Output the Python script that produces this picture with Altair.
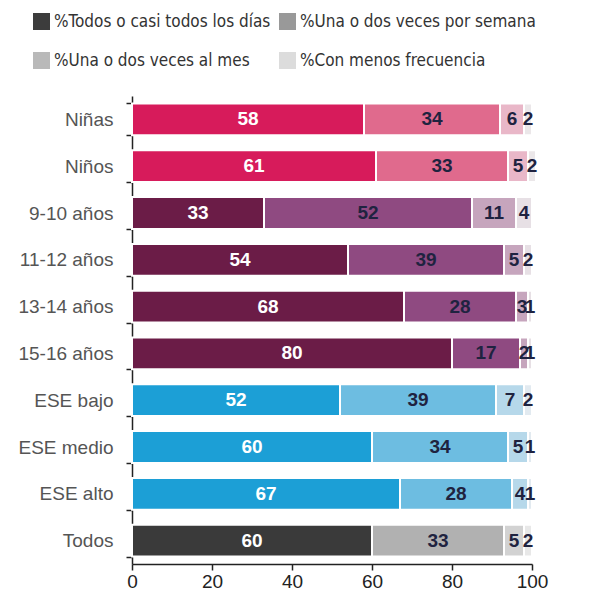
import altair as alt
import pandas as pd

categories = ["Niñas", "Niños", "9-10 años", "11-12 años", "13-14 años",
              "15-16 años", "ESE bajo", "ESE medio", "ESE alto", "Todos"]
groups = ["sexo", "sexo", "edad", "edad", "edad", "edad", "ese", "ese", "ese", "todos"]
series = ["%Todos o casi todos los días", "%Una o dos veces por semana",
          "%Una o dos veces al mes", "%Con menos frecuencia"]
s1 = [58, 61, 33, 54, 68, 80, 52, 60, 67, 60]
s2 = [34, 33, 52, 39, 28, 17, 39, 34, 28, 33]
s3 = [6, 5, 11, 5, 3, 2, 7, 5, 4, 5]
s4 = [2, 2, 4, 2, 1, 1, 2, 1, 1, 2]

group_colors = {
    "sexo": ["#d71b5b", "#e06a8d", "#e9b7c8", "#ebe7e9"],
    "edad": ["#6b1c47", "#8f4a81", "#c6a5bd", "#e7e0e5"],
    "ese": ["#1c9fd6", "#6dbde1", "#b6d8ea", "#e2eaf0"],
    "todos": ["#3a3a3a", "#b1b1b1", "#d2d2d2", "#e8e8e8"],
}
legend_colors = ["#3c3c3c", "#999999", "#b9b9b9", "#dcdcdc"]

rows = []
for i, cat in enumerate(categories):
    vals = [s1[i], s2[i], s3[i], s4[i]]
    start = 0
    for k, v in enumerate(vals):
        rows.append({
            "cat": cat, "serie": series[k], "seg": k + 1, "value": v,
            "start": start, "end": start + v, "mid": start + v / 2,
            "key": f"{groups[i]}_{k + 1}",
        })
        start += v
df = pd.DataFrame(rows)

key_domain = [f"{g}_{k + 1}" for g in group_colors for k in range(4)]
key_range = [c for g in group_colors for c in group_colors[g]]

# legend lays out column-major: reorder so rows read left-to-right
leg_order = [0, 2, 1, 3]
leg_domain = [series[i] for i in leg_order]
leg_range = [legend_colors[i] for i in leg_order]

FONT = "Liberation Sans"

y_enc = alt.Y("cat:N", sort=categories, title=None,
              scale=alt.Scale(paddingInner=0.32, paddingOuter=0.16),
              axis=alt.Axis(labelFontSize=19, labelColor="#555555", labelFont=FONT,
                            tickBand="extent", tickSize=6, tickColor="#222222",
                            domainColor="#222222", domainWidth=1.5, tickWidth=1.5,
                            labelPadding=13, minExtent=119, maxExtent=119))
x_scale = alt.Scale(domain=[0, 100], nice=False)

bars = alt.Chart(df).mark_bar(stroke="white", strokeWidth=2).encode(
    y=y_enc,
    x=alt.X("start:Q", scale=x_scale, title=None,
            axis=alt.Axis(values=[0, 20, 40, 60, 80, 100], grid=False, labelFlush=False,
                          labelFontSize=19, labelColor="#222222", labelFont=FONT,
                          tickSize=6, tickColor="#222222", tickWidth=1.5,
                          domainColor="#222222", domainWidth=1.5, labelPadding=2)),
    x2="end:Q",
    color=alt.Color("key:N", scale=alt.Scale(domain=key_domain, range=key_range), legend=None),
)

legend_layer = alt.Chart(df).mark_bar(opacity=0).encode(
    y=alt.Y("cat:N", sort=categories),
    x=alt.X("start:Q", scale=x_scale),
    x2="end:Q",
    fill=alt.Fill("serie:N",
                  scale=alt.Scale(domain=leg_domain, range=leg_range),
                  legend=alt.Legend(title=None, orient="none", legendX=-99, legendY=-83,
                                    columns=2, columnPadding=8, rowPadding=21,
                                    symbolType="square", symbolSize=289,
                                    symbolOpacity=1, symbolStrokeWidth=0,
                                    labelFontSize=17, labelOffset=4,
                                    labelFont="Liberation Sans Narrow, Arial Narrow, DejaVu Sans Condensed",
                                    labelColor="#333333", labelLimit=400, padding=0)),
)

labels = alt.Chart(df).mark_text(fontSize=19, fontWeight="bold", font=FONT).encode(
    y=alt.Y("cat:N", sort=categories),
    x=alt.X("mid:Q", scale=x_scale),
    text=alt.Text("value:Q"),
    color=alt.condition(alt.datum.seg == 1, alt.value("white"), alt.value("#1f2340")),
)

chart = alt.layer(bars, legend_layer, labels).resolve_scale(
    color="independent", fill="independent"
).properties(
    width=400, height=468,
    padding={"left": 5, "top": 5, "right": 5, "bottom": 0},
).configure_view(stroke=None)

chart.save("out.html", embed_options={"renderer": "svg", "actions": False})
